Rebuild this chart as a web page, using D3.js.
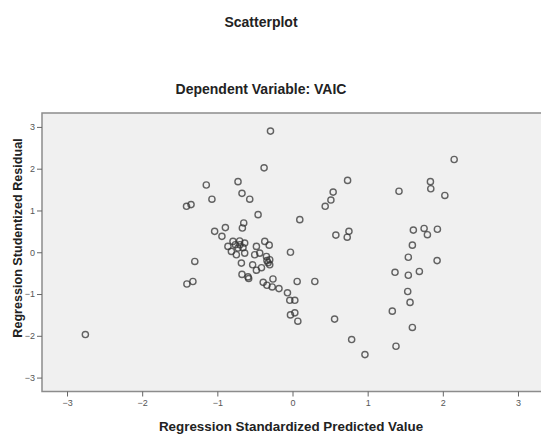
<!DOCTYPE html>
<html>
<head>
<meta charset="utf-8">
<script src="https://cdn.jsdelivr.net/npm/d3@7"></script>
<style>
  body { margin: 0; background: #fff; }
  text { font-family: "Liberation Sans", Arial, sans-serif; }
  .title { font-size: 14px; font-weight: bold; fill: #222; }
  .axis-label { font-weight: bold; fill: #222; }
  .tick text { font-size: 9px; fill: #555; }
</style>
</head>
<body>
<svg width="541" height="434"></svg>
<script>
// predicted (x) and residual (y) values
const predicted = [
  -1.147, -1.41, -1.35, -1.072, -0.293, -0.378, -0.725, -0.672, -0.569, -0.458,
  0.097, 0.733, 0.541, 0.511, 0.435, 0.577, 0.751, 0.728, -1.036, -0.893,
  -0.939, -0.649, -0.667, -0.859, -0.792, -0.703, -0.636, -0.813, -0.725, -0.659,
  -0.747, -0.636, -0.48, -0.369, -0.31, -0.503, -0.436, -0.347, -0.303, -0.325,
  -0.303, -0.68, -0.53, -0.48, -0.413, -0.672, -0.592, -0.583, -0.39, -0.34,
  -0.26, -0.27, -0.18, -0.067, -0.036, 0.031, -0.027, 0.031, 0.071, 0.062,
  0.297, -0.027, 0.56, 0.787, -1.30, -1.405, -1.325, -2.756, 2.151, 1.835,
  1.84, 1.417, 2.027, 1.608, 1.751, 1.795, 1.928, 1.595, 1.541, 1.924,
  1.364, 1.541, 1.688, 1.533, 1.564, 1.328, 1.595, 1.377, 0.964,
  -0.76, -0.70, -0.34
];
const residual = [
  1.61, 1.10, 1.14, 1.27, 2.90, 2.02, 1.69, 1.41, 1.27, 0.90,
  0.78, 1.72, 1.44, 1.25, 1.10, 0.41, 0.50, 0.36, 0.50, 0.59,
  0.38, 0.70, 0.58, 0.14, 0.26, 0.27, 0.22, 0.02, 0.10, 0.11,
  -0.06, -0.02, 0.14, 0.26, 0.17, -0.06, -0.02, -0.10, -0.18, -0.25,
  -0.30, -0.26, -0.30, -0.43, -0.37, -0.53, -0.59, -0.63, -0.72, -0.79,
  -0.64, -0.83, -0.87, -0.97, -1.15, -1.15, -1.50, -1.45, -1.65, -0.70,
  -0.70, 0.0, -1.60, -2.09, -0.22, -0.76, -0.70, -1.97, 2.22, 1.69,
  1.52, 1.46, 1.36, 0.53, 0.57, 0.42, 0.55, 0.17, -0.12, -0.20,
  -0.48, -0.55, -0.46, -0.94, -1.20, -1.41, -1.80, -2.25, -2.45,
  0.18, 0.18, -0.20
];
const tickValues = [-3, -2, -1, 0, 1, 2, 3];

const render = (data, svg) => {
  const margin = { top: 113, left: 42 };
  const innerWidth = 501;
  const innerHeight = 278.5;

  const xScale = d3.scaleLinear()
    .domain([-3.333, 3.333])
    .range([0, innerWidth]);

  const yScale = d3.scaleLinear()
    .domain([-3.333, 3.333])
    .range([innerHeight, 0]);

  // titles
  svg.append('text')
    .attr('class', 'title')
    .attr('x', 261)
    .attr('y', 27)
    .attr('text-anchor', 'middle')
    .text('Scatterplot');

  svg.append('text')
    .attr('class', 'title')
    .attr('x', 261)
    .attr('y', 94)
    .attr('text-anchor', 'middle')
    .text('Dependent Variable: VAIC');

  const g = svg.append('g')
    .attr('transform', `translate(${margin.left},${margin.top})`);

  // plot frame
  g.append('rect')
    .attr('width', innerWidth)
    .attr('height', innerHeight)
    .attr('fill', '#f0f0f0')
    .attr('stroke', '#8c8c8c')
    .attr('stroke-width', 1.5);

  // x axis
  const xAxisG = g.append('g')
    .attr('transform', `translate(0,${innerHeight})`)
    .call(d3.axisBottom(xScale)
      .tickValues(tickValues)
      .tickSize(5)
      .tickPadding(3)
      .tickFormat(d3.format('d')));
  xAxisG.selectAll('.domain').remove();
  xAxisG.selectAll('line').attr('stroke', '#666');

  svg.append('text')
    .attr('class', 'axis-label')
    .attr('x', 291)
    .attr('y', 431)
    .attr('font-size', '13.4px')
    .attr('text-anchor', 'middle')
    .text('Regression Standardized Predicted Value');

  // y axis
  const yAxisG = g.append('g')
    .call(d3.axisLeft(yScale)
      .tickValues(tickValues)
      .tickSize(5)
      .tickPadding(2)
      .tickFormat(d3.format('d')));
  yAxisG.selectAll('.domain').remove();
  yAxisG.selectAll('line').attr('stroke', '#666');

  svg.append('text')
    .attr('class', 'axis-label')
    .attr('transform', 'rotate(-90)')
    .attr('x', -238)
    .attr('y', 22)
    .attr('font-size', '12.6px')
    .attr('text-anchor', 'middle')
    .text('Regression Studentized Residual');

  // points
  g.selectAll('circle')
    .data(data)
    .enter()
    .append('circle')
    .attr('cx', d => xScale(d.x))
    .attr('cy', d => yScale(d.y))
    .attr('r', 3.1)
    .attr('fill', 'none')
    .attr('stroke', '#333')
    .attr('stroke-opacity', 0.75)
    .attr('stroke-width', 1.4);
};

const data = predicted.map((x, i) => ({ x, y: residual[i] }));
render(data, d3.select('svg'));
</script>
</body>
</html>
